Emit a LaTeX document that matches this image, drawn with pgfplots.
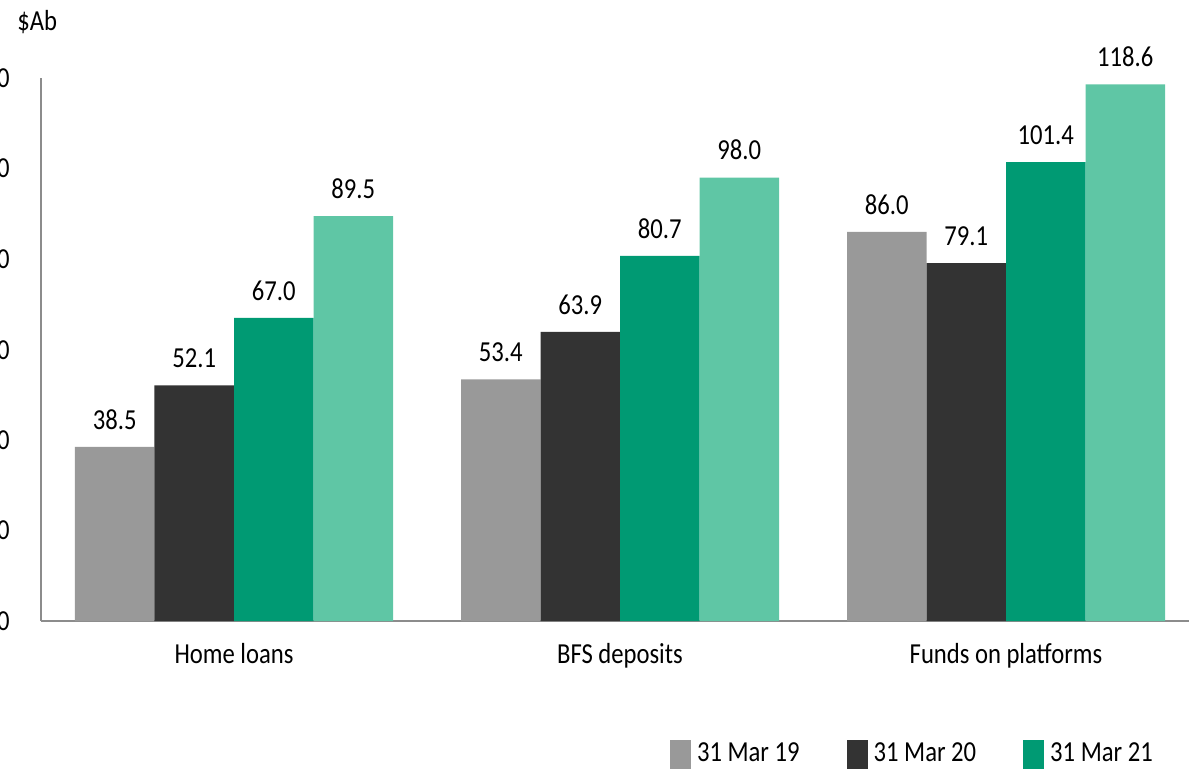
\documentclass[border=0pt]{standalone}
\usepackage{fontspec}
\setmainfont{Carlito}[FakeStretch=0.85]
\usepackage{pgfplots}
\pgfplotsset{compat=1.18}
\definecolor{cgrey}{HTML}{999999}
\definecolor{cdark}{HTML}{333333}
\definecolor{cgreen}{HTML}{009A73}
\definecolor{clight}{HTML}{5FC6A5}
\definecolor{caxis}{HTML}{8C8C8C}
\begin{document}
\begin{tikzpicture}[font=\fontsize{14.5}{17}\selectfont]
\useasboundingbox (-20.5pt,-73.5pt) rectangle (574pt,310.5pt);
\clip (-20.5pt,-73.5pt) rectangle (574pt,310.5pt);
\begin{axis}[
  at={(0pt,0pt)}, anchor=south west,
  scale only axis, width=579pt, height=271.5pt,
  xmin=-0.5, xmax=2.5, ymin=0, ymax=120,
  axis lines=left,
  axis line style={caxis, line width=1pt, -},
  ytick={0,20,...,120},
  xtick={0,1,2},
  xticklabels={Home loans, BFS deposits, Funds on platforms},
  major tick length=0pt,
  /pgf/number format/assume math mode=true,
  xticklabel style={anchor=north, inner sep=0pt, yshift=-11pt, text=black},
  yticklabel style={anchor=east, inner sep=0pt, xshift=-15.5pt, text=black},
  ybar=0pt, bar width=39.75pt,
  nodes near coords={\pgfmathprintnumber[fixed,fixed zerofill,precision=1]{\pgfplotspointmeta}},
  every node near coord/.append style={anchor=south, inner sep=0pt, yshift=8.5pt, text=black},
  legend style={at={(0.5432,-0.245)}, anchor=west, draw=none, fill=none,
    inner sep=0pt, outer sep=0pt, nodes={inner sep=2pt},
    /tikz/every even column/.append style={column sep=21.5pt}},
  legend columns=3,
  legend cell align=left,
  legend image code/.code={\fill[#1] (0pt,-7.25pt) rectangle (10.5pt,7.25pt); \path (11.5pt,0pt);},
]
\addplot[fill=cgrey, draw=none, bar shift=-59.625pt] coordinates {(0,38.5) (1,53.4) (2,86.0)};
\addplot[fill=cdark, draw=none, bar shift=-19.875pt] coordinates {(0,52.1) (1,63.9) (2,79.1)};
\addplot[fill=cgreen, draw=none, bar shift=19.875pt] coordinates {(0,67.0) (1,80.7) (2,101.4)};
\addplot[fill=clight, draw=none, bar shift=59.625pt] coordinates {(0,89.5) (1,98.0) (2,118.6)};
\legend{31 Mar 19, 31 Mar 20, 31 Mar 21}
\end{axis}
\node[anchor=base west, inner sep=0pt] at (-12pt,295.5pt) {\$Ab};
\end{tikzpicture}
\end{document}
